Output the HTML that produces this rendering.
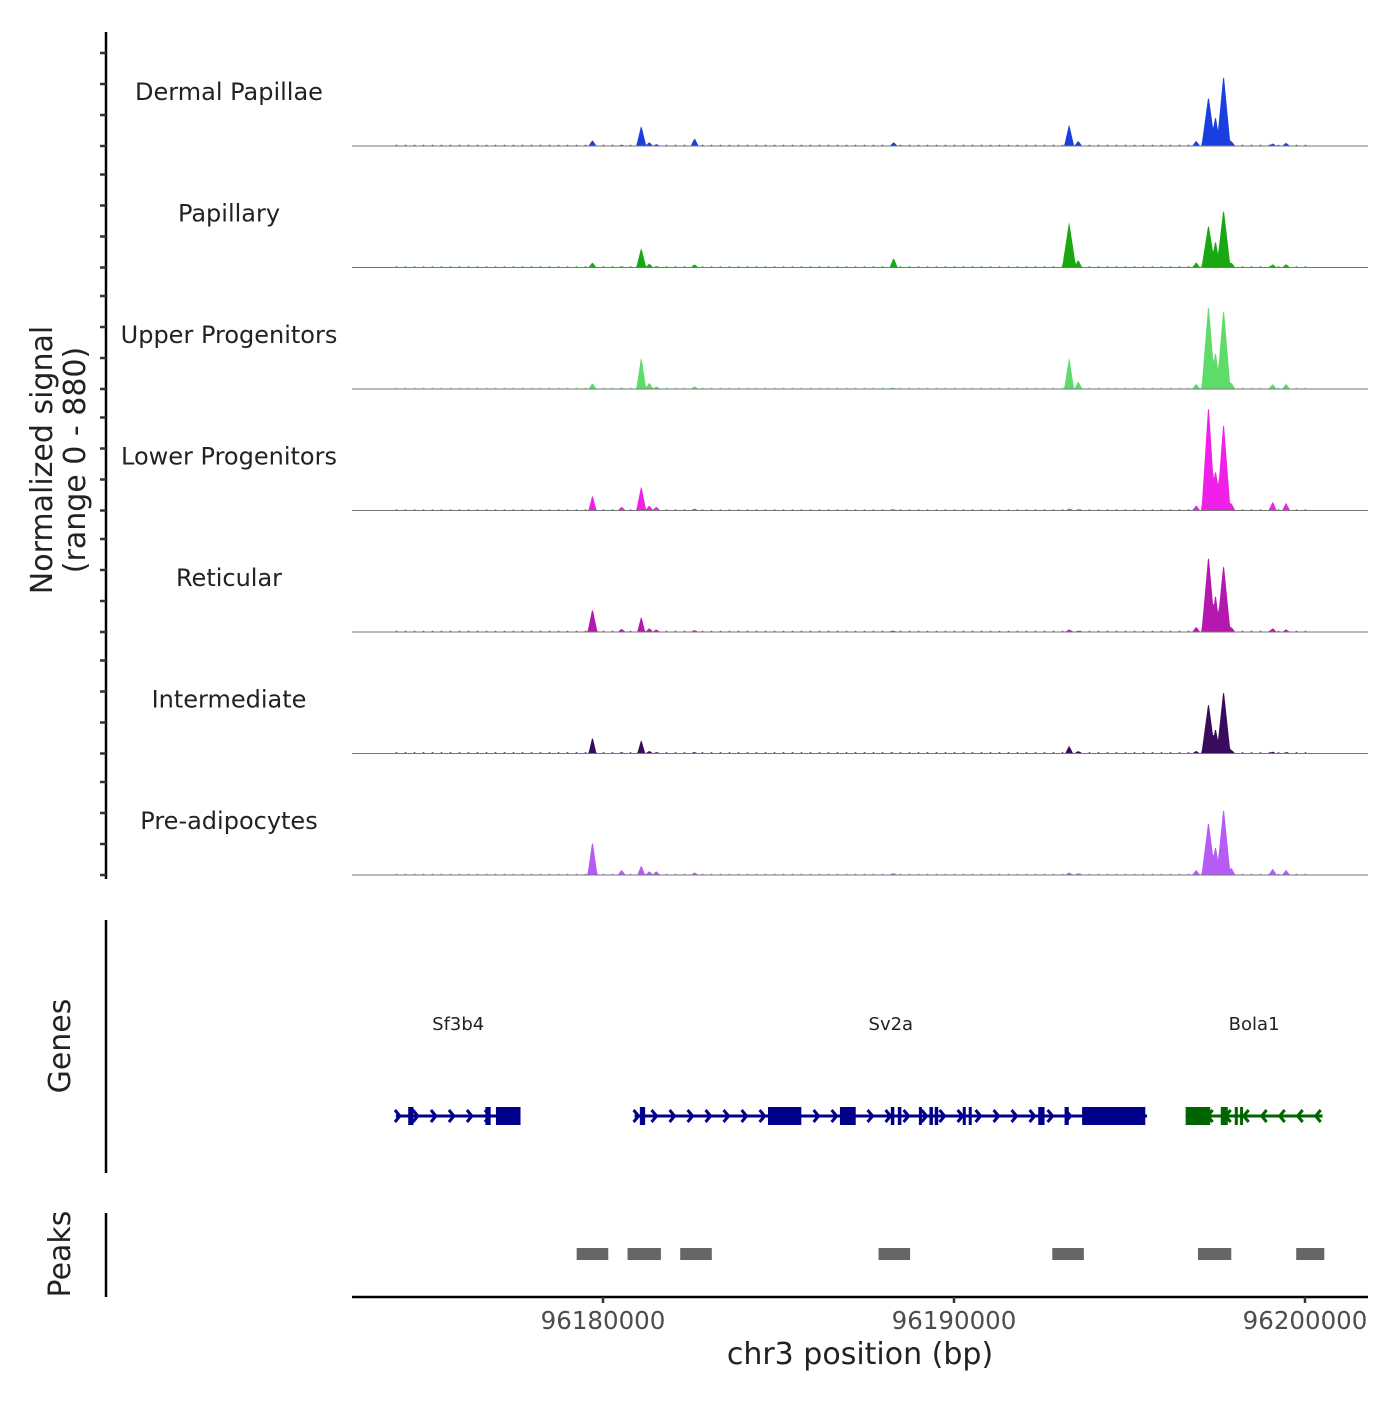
<!DOCTYPE html>
<html><head><meta charset="utf-8"><style>
body{margin:0;background:#fff}
svg text{font-family:"DejaVu Sans","Liberation Sans",sans-serif;fill:#222}
</style></head><body>
<svg id="c" width="1400" height="1400" viewBox="0 0 1400 1400" xmlns="http://www.w3.org/2000/svg"></svg>
<script>
const trackNames=["Dermal Papillae","Papillary","Upper Progenitors","Lower Progenitors","Reticular","Intermediate","Pre-adipocytes"];
const trackColors=["#1a3fe0","#1aa812","#5ddc6a","#f020e8","#b518b0","#3a0a5c","#b55cf5"];
const peakPos=[96179700,96181090,96181320,96182610,96188280,96193280,96193540,96196900,96197250,96197450,96197680,96197900,96199080,96199460,96181520,96180530];
const sigDermal=[46,160,30,60,30,168,40,40,390,237,560,40,20,25,15,10];
const sigPapillary=[40,153,30,25,76,352,60,40,337,213,460,40,25,25,10,10];
const sigUpper=[46,252,50,20,10,245,60,40,666,300,635,50,40,40,20,10];
const sigLower=[122,191,40,15,10,15,10,40,834,314,696,60,70,60,30,30];
const sigReticular=[183,122,30,15,10,20,10,40,604,300,535,40,30,20,20,25];
const sigIntermediate=[130,107,20,10,5,60,20,20,398,200,497,30,15,10,10,10];
const sigPreadipo=[268,76,30,20,15,20,15,40,421,230,528,60,50,40,30,40];
const allSig=[sigDermal,sigPapillary,sigUpper,sigLower,sigReticular,sigIntermediate,sigPreadipo];
const genes=[{name:"Sf3b4",start:96174100,end:96177650,strand:1,color:"#00008b",exons:[[96174450,96174600],[96176650,96176800],[96176950,96177650]]},
{name:"Sv2a",start:96180900,end:96195500,strand:1,color:"#00008b",exons:[[96181050,96181200],[96184700,96185650],[96186750,96187200],[96188200,96188300],[96188400,96188500],[96189000,96189050],[96189300,96189400],[96189450,96189550],[96190250,96190320],[96190420,96190500],[96192400,96192580],[96193150,96193270],[96193650,96195450]]},
{name:"Bola1",start:96196600,end:96200500,strand:-1,color:"#006400",exons:[[96196600,96197300],[96197600,96197800],[96198000,96198050],[96198150,96198200]]}];
const peakRegions=[[96179250,96180150],[96180700,96181650],[96182200,96183100],[96187850,96188750],[96192800,96193700],[96196950,96197900],[96199750,96200550]];
const xTicks=[96180000,96190000,96200000];

const svg=document.getElementById('c');const NS="http://www.w3.org/2000/svg";
function mk(t,a,p){const e=document.createElementNS(NS,t);for(const k in a)e.setAttribute(k,a[k]);(p||svg).appendChild(e);return e;}
const X=bp=>603+(bp-96180000)*0.0351;
const base0=146,gap=121.5,H=115,Y=v=>v/880*H;
let ax=mk('line',{x1:106,y1:32,x2:106,y2:879,stroke:'#000','stroke-width':2.5});

for(let t=0;t<7;t++){const b=base0+t*gap;for(let k=0;k<4;k++){const y=b-k*31;const tk=mk('line',{x1:100,y1:y,x2:106,y2:y,stroke:'#333','stroke-width':2.5});}}
let yt=mk('text',{x:0,y:0,'font-size':30,'text-anchor':'middle',transform:'translate(52,460) rotate(-90)'});

mk('tspan',{x:0,dy:0},yt).textContent='Normalized signal';mk('tspan',{x:0,dy:33},yt).textContent='(range 0 - 880)';
for(let t=0;t<7;t++){
 const b=base0+t*gap;const vals=allSig[t];
 let d=`M352,${b}`;
 for(let px=395;px<=1320;px++){let h=(px%9<2&&px<1310)?1.2:0;
  for(let i=0;i<peakPos.length;i++){const cx=X(peakPos[i]);const w=vals[i]>300?7:(vals[i]>150?5:4);const dd=Math.abs(px-cx);if(dd<w){h=Math.max(h,Y(vals[i])*(1-dd/w));}}
  d+=`L${px},${(b-h).toFixed(1)}`;}
 d+=`L1368,${b}Z`;
 const p=mk('path',{d:d,fill:trackColors[t]});
 const bl=mk('line',{x1:352,y1:b,x2:1368,y2:b,stroke:'#777','stroke-width':1});
 const tl=mk('text',{x:229,y:b-46,'font-size':24,'text-anchor':'middle'});tl.textContent=trackNames[t];
}
let ga=mk('line',{x1:106,y1:920,x2:106,y2:1173,stroke:'#000','stroke-width':2.5});
let gt=mk('text',{x:0,y:0,'font-size':30,'text-anchor':'middle',transform:'translate(70,1046) rotate(-90)'});gt.textContent='Genes';
genes.forEach(g=>{const x1=X(g.start),x2=X(g.end),y=1116;
 const gg=mk('g',{});
 mk('line',{x1:x1,y1:y,x2:x2,y2:y,stroke:g.color,'stroke-width':3},gg);
 for(let cx=x1+4;cx<x2;cx+=18){const s=g.strand*5;mk('polyline',{points:`${cx-s},${y-6} ${cx},${y} ${cx-s},${y+6}`,fill:'none',stroke:g.color,'stroke-width':3},gg);}
 g.exons.forEach(e=>{const a=X(e[0]),b=X(e[1]);mk('rect',{x:a,y:y-9,width:Math.max(3,b-a),height:18,fill:g.color},gg);});
 const lb=mk('text',{x:(x1+x2)/2,y:1030,'font-size':18,'text-anchor':'middle'});lb.textContent=g.name;
});
let pa=mk('line',{x1:106,y1:1213,x2:106,y2:1297,stroke:'#000','stroke-width':2.5});
let pt=mk('text',{x:0,y:0,'font-size':30,'text-anchor':'middle',transform:'translate(70,1254) rotate(-90)'});pt.textContent='Peaks';
peakRegions.forEach(r=>{const pr=mk('rect',{x:X(r[0]),y:1248,width:X(r[1])-X(r[0]),height:12,fill:'#666'});});
let xa=mk('line',{x1:352,y1:1297,x2:1368,y2:1297,stroke:'#000','stroke-width':2.5});
xTicks.forEach(v=>{const x=X(v);mk('line',{x1:x,y1:1297,x2:x,y2:1303,stroke:'#333','stroke-width':2.5});
 const tl=mk('text',{x:x,y:1329,'font-size':24.5,'text-anchor':'middle',style:'fill:#4d4d4d'});tl.textContent=v;});
let xt=mk('text',{x:860,y:1364,'font-size':30,'text-anchor':'middle'});xt.textContent='chr3 position (bp)';
</script></body></html>
